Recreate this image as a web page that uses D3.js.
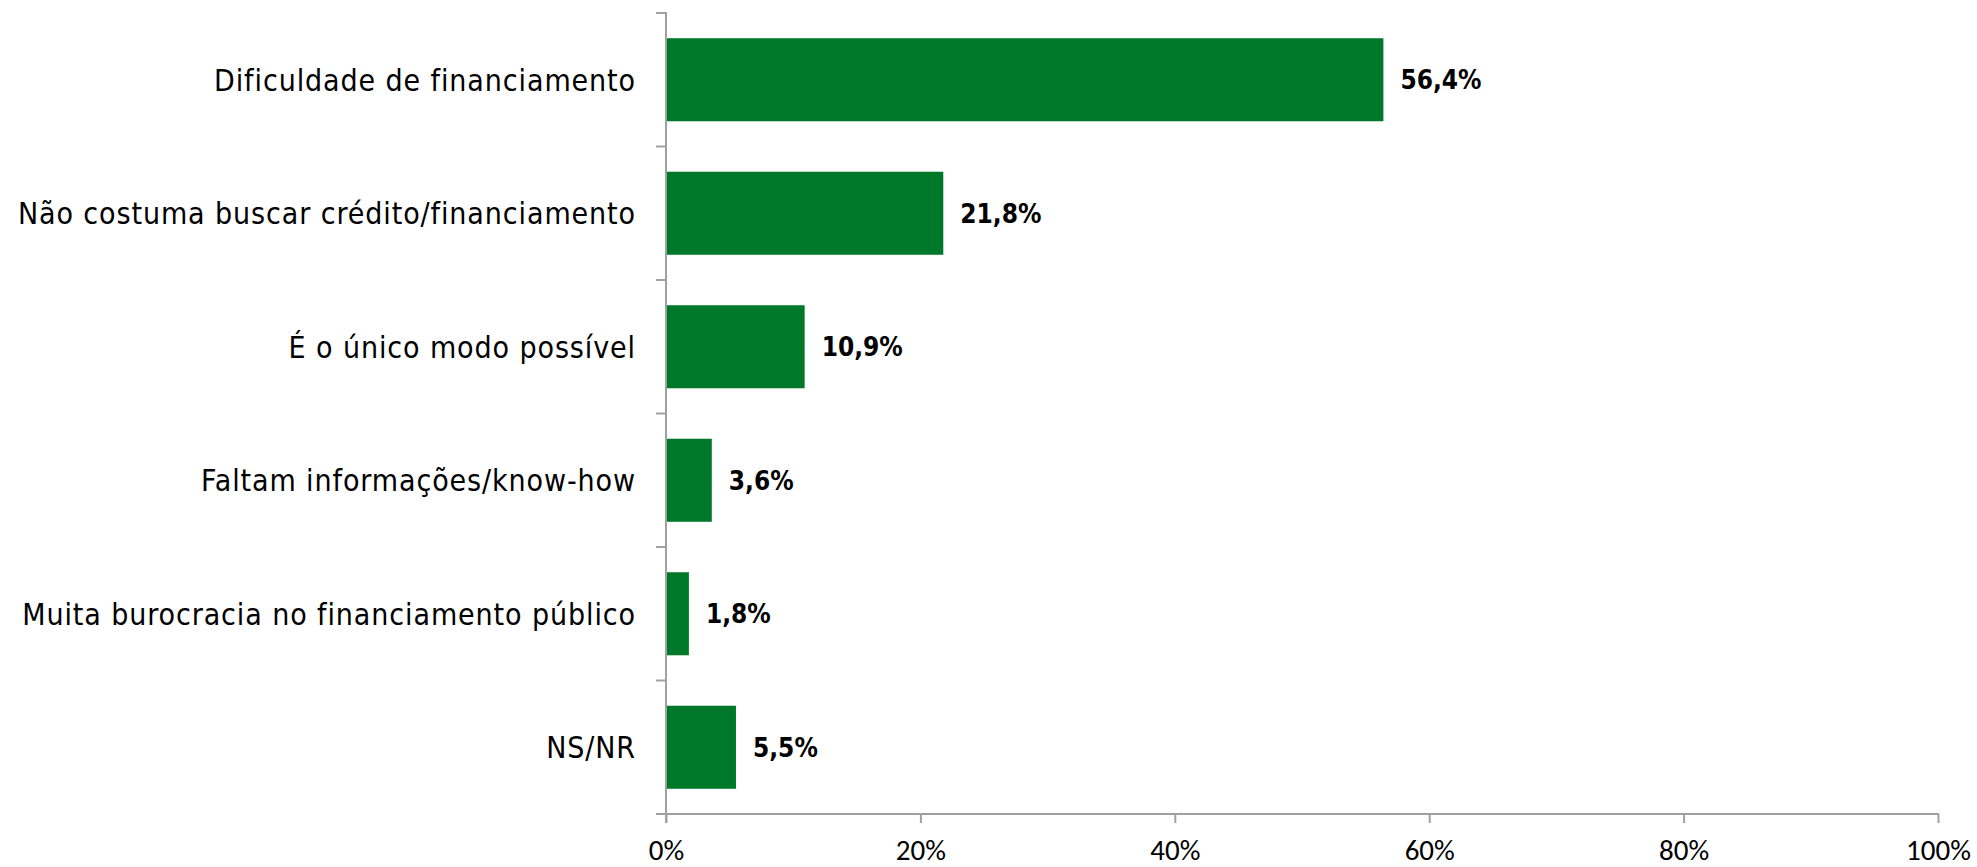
<!DOCTYPE html>
<html>
<head>
<meta charset="utf-8">
<script src="https://cdn.jsdelivr.net/npm/d3@7"></script>
<style>
  html, body { margin: 0; padding: 0; background: #ffffff; }
  svg { display: block; }
</style>
</head>
<body>
<svg id="chart" width="1977" height="867"></svg>
<script>
const categories = [
  "Dificuldade de financiamento",
  "Não costuma buscar crédito/financiamento",
  "É o único modo possível",
  "Faltam informações/know-how",
  "Muita burocracia no financiamento público",
  "NS/NR"
];
const values = [56.4, 21.8, 10.9, 3.6, 1.8, 5.5];
const valueLabels = ["56,4%", "21,8%", "10,9%", "3,6%", "1,8%", "5,5%"];
const xTicks = [0, 20, 40, 60, 80, 100];
const xTickLabels = ["0%", "20%", "40%", "60%", "80%", "100%"];

(function () {
const svg = d3.select("#chart");
const pLeft = 666, pRight = 1938, pTop = 13, pBottom = 814;
const axisColor = "#a0a0a0";
const barColor = "#00782a";

const x = d3.scaleLinear().domain([0, 100]).range([pLeft, pRight]);
const y = d3.scaleBand().domain(categories).range([pTop, pBottom])
  .paddingInner(0.378).paddingOuter(0.189);

// bars
svg.append("g").selectAll("rect").data(values).join("rect")
  .attr("x", x(0))
  .attr("y", (d, i) => y(categories[i]))
  .attr("width", d => x(d) - x(0))
  .attr("height", y.bandwidth())
  .attr("fill", barColor);

// value labels
svg.append("g").selectAll("text").data(values).join("text")
  .attr("x", d => x(d) + 17)
  .attr("y", (d, i) => y(categories[i]) + y.bandwidth() / 2)
  .attr("dy", "0.36em")
  .attr("font-family", "'DejaVu Sans Condensed', 'DejaVu Sans', sans-serif")
  .attr("font-weight", "bold")
  .attr("font-size", 26)
  .attr("fill", "#000")
  .text((d, i) => valueLabels[i]);

// x axis
const xAxis = d3.axisBottom(x).tickValues(xTicks)
  .tickFormat((d, i) => xTickLabels[i]).tickSize(9).tickSizeOuter(0);
const gx = svg.append("g").attr("transform", `translate(0,${pBottom})`).call(xAxis);
gx.select(".domain").remove();
gx.selectAll(".tick line").attr("stroke", axisColor).attr("stroke-width", 2);
gx.selectAll(".tick text")
  .attr("y", 46).attr("dy", 0)
  .attr("font-family", "Carlito, 'Liberation Sans Narrow', 'Arial Narrow', 'Liberation Sans', sans-serif")
  .attr("font-size", 29)
  .attr("fill", "#000");
svg.append("line")
  .attr("x1", pLeft - 10).attr("x2", pRight + 1)
  .attr("y1", pBottom).attr("y2", pBottom)
  .attr("stroke", axisColor).attr("stroke-width", 2);

// y axis line and boundary ticks
svg.append("line")
  .attr("x1", pLeft).attr("x2", pLeft)
  .attr("y1", pTop - 1).attr("y2", pBottom + 9)
  .attr("stroke", axisColor).attr("stroke-width", 2);
const boundaries = categories.map(c => y(c) - y.step() * y.paddingInner() / 2);
boundaries.push(pBottom);
svg.append("g").selectAll("line").data(boundaries).join("line")
  .attr("x1", pLeft - 10).attr("x2", pLeft)
  .attr("y1", d => d).attr("y2", d => d)
  .attr("stroke", axisColor).attr("stroke-width", 2);

// category labels
svg.append("g").selectAll("text").data(categories).join("text")
  .attr("x", 636)
  .attr("y", d => y(d) + y.bandwidth() / 2)
  .attr("dy", "0.36em")
  .attr("text-anchor", "end")
  .attr("font-family", "'DejaVu Sans Condensed', 'DejaVu Sans', sans-serif")
  .attr("font-size", 30)
  .attr("letter-spacing", 0.9)
  .attr("fill", "#000")
  .text(d => d);
})();
</script>
</body>
</html>
